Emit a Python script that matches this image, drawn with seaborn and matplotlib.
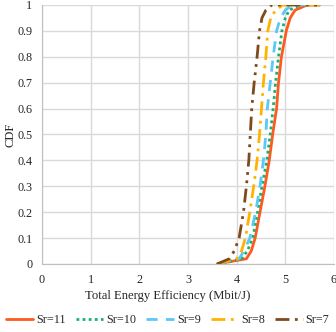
import numpy as np
import pandas as pd
import matplotlib
matplotlib.use("Agg")
import matplotlib.pyplot as plt
import seaborn as sns

# CDF levels shared by all curves
cdf = [0, 0.02, 0.05, 0.1, 0.2, 0.3, 0.4, 0.5, 0.6, 0.7, 0.8, 0.9, 0.95, 0.98, 1.0, 1.0]

# energy efficiency (Mbit/J) at each CDF level
ee_sr11 = [3.6, 4.2, 4.3, 4.38, 4.48, 4.58, 4.67, 4.74, 4.82, 4.86, 4.92, 5.02, 5.1, 5.2, 5.45, 5.7]
ee_sr10 = [3.6, 4.1, 4.22, 4.33, 4.43, 4.52, 4.62, 4.69, 4.75, 4.8, 4.86, 4.93, 5.0, 5.08, 5.3, 5.7]
ee_sr9 = [3.6, 4.05, 4.15, 4.27, 4.39, 4.48, 4.55, 4.6, 4.63, 4.69, 4.75, 4.82, 4.9, 5.0, 5.15, 5.7]
ee_sr8 = [3.6, 4.0, 4.1, 4.18, 4.27, 4.35, 4.42, 4.47, 4.51, 4.55, 4.6, 4.64, 4.7, 4.8, 4.95, 5.7]
ee_sr7 = [3.6, 3.85, 3.95, 4.05, 4.14, 4.2, 4.25, 4.28, 4.31, 4.36, 4.42, 4.47, 4.52, 4.6, 4.72, 5.7]

labels = ["Sr=11", "Sr=10", "Sr=9", "Sr=8", "Sr=7"]
series = [ee_sr11, ee_sr10, ee_sr9, ee_sr8, ee_sr7]
colors = ["#FF5A1F", "#1AAF6C", "#5BC8F5", "#FFB300", "#7F4A1A"]
dashes = [(None, None), (1, 1.2), (4, 3), (5, 2, 1, 2), (5, 2, 1, 2, 1, 2)]

sns.set_style("white")
plt.rcParams["font.family"] = ["Liberation Serif", "DejaVu Serif"]

fig = plt.figure(figsize=(3.36, 3.32), dpi=100)
ax = fig.add_axes([0.125, 0.205, 0.869, 0.78])

for lab, xs, col, ds in zip(labels, series, colors, dashes):
    df = pd.DataFrame({"x": xs, "y": cdf})
    sns.lineplot(data=df, x="x", y="y", ax=ax, color=col, lw=2,
                 label=lab, sort=False, estimator=None)
    if ds[0] is not None:
        ax.lines[-1].set_dashes(ds)

ax.set_xlim(0, 6)
ax.set_ylim(0, 1)
ax.set_xticks(range(0, 7))
ax.set_yticks(np.round(np.arange(0, 1.01, 0.1), 1))
ax.set_yticklabels(["0"] + [f"{v:.1f}" for v in np.arange(0.1, 0.95, 0.1)] + ["1"])
ax.grid(True, color="#d9d9d9", lw=1)
for s in ["top", "right"]:
    ax.spines[s].set_visible(False)
for s in ["left", "bottom"]:
    ax.spines[s].set_color("#bfbfbf")
ax.tick_params(length=0, labelsize=8.7, pad=7)
ax.set_xlabel("Total Energy Efficiency (Mbit/J)", fontsize=9.1)
ax.set_ylabel("CDF", fontsize=9.1)
ax.yaxis.set_label_coords(-0.088, 0.5)
ax.xaxis.set_label_coords(0.43, -0.1)

ax.legend(loc="center", bbox_to_anchor=(0.43, -0.218), ncol=5, frameon=False,
          fontsize=8.7, handlelength=2.3, handletextpad=0.25, columnspacing=0.8,
          borderaxespad=0)

fig.savefig("out.png", dpi=100)
